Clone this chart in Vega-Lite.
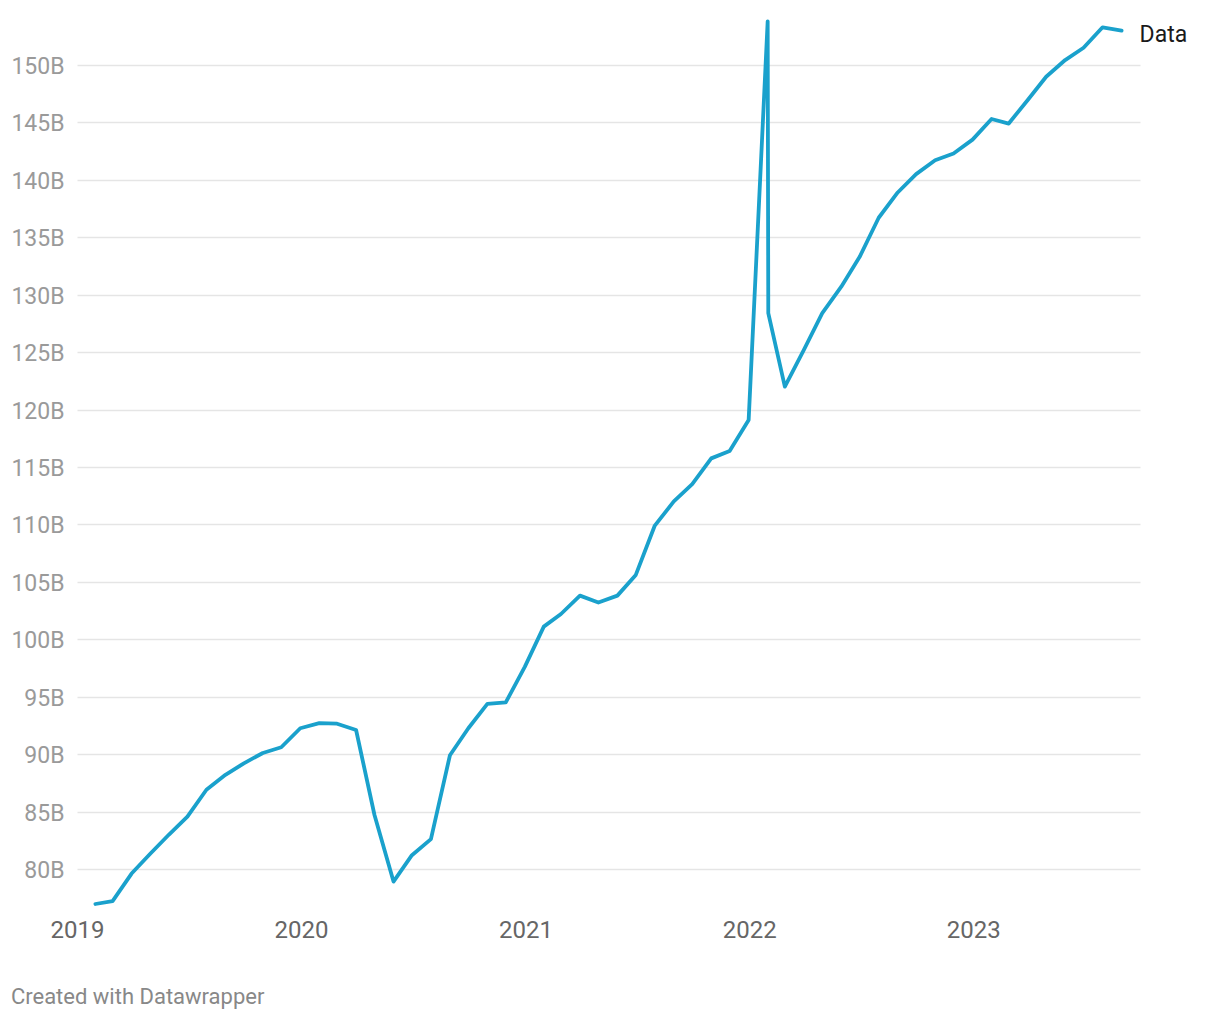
{
  "$schema": "https://vega.github.io/schema/vega-lite/v6.json",
  "width": 1063,
  "height": 883,
  "autosize": {"type": "none"},
  "padding": {"left": 77, "top": 21, "right": 80, "bottom": 116},
  "background": "white",
  "config": {"view": {"stroke": null}, "font": "Roboto"},
  "title": {
    "text": "Created with Datawrapper",
    "orient": "bottom",
    "anchor": "start",
    "frame": "bounds",
    "font": "Roboto",
    "fontSize": 22,
    "fontWeight": "normal",
    "color": "#888888",
    "baseline": "top",
    "offset": 45
  },
  "data": {
    "values": [
      {"date": "2019-01-31", "value": 76.95, "series": "Data"},
      {"date": "2019-02-28", "value": 77.2, "series": "Data"},
      {"date": "2019-03-31", "value": 79.6, "series": "Data"},
      {"date": "2019-04-30", "value": 81.3, "series": "Data"},
      {"date": "2019-05-31", "value": 83.0, "series": "Data"},
      {"date": "2019-06-30", "value": 84.55, "series": "Data"},
      {"date": "2019-07-31", "value": 86.9, "series": "Data"},
      {"date": "2019-08-31", "value": 88.2, "series": "Data"},
      {"date": "2019-09-30", "value": 89.2, "series": "Data"},
      {"date": "2019-10-31", "value": 90.1, "series": "Data"},
      {"date": "2019-11-30", "value": 90.6, "series": "Data"},
      {"date": "2019-12-31", "value": 92.25, "series": "Data"},
      {"date": "2020-01-31", "value": 92.7, "series": "Data"},
      {"date": "2020-02-29", "value": 92.65, "series": "Data"},
      {"date": "2020-03-31", "value": 92.1, "series": "Data"},
      {"date": "2020-04-30", "value": 84.7, "series": "Data"},
      {"date": "2020-05-31", "value": 78.9, "series": "Data"},
      {"date": "2020-06-30", "value": 81.2, "series": "Data"},
      {"date": "2020-07-31", "value": 82.6, "series": "Data"},
      {"date": "2020-08-31", "value": 89.9, "series": "Data"},
      {"date": "2020-09-30", "value": 92.25, "series": "Data"},
      {"date": "2020-10-31", "value": 94.37, "series": "Data"},
      {"date": "2020-11-30", "value": 94.5, "series": "Data"},
      {"date": "2020-12-31", "value": 97.6, "series": "Data"},
      {"date": "2021-01-31", "value": 101.1, "series": "Data"},
      {"date": "2021-02-28", "value": 102.2, "series": "Data"},
      {"date": "2021-03-31", "value": 103.8, "series": "Data"},
      {"date": "2021-04-30", "value": 103.2, "series": "Data"},
      {"date": "2021-05-31", "value": 103.8, "series": "Data"},
      {"date": "2021-06-30", "value": 105.6, "series": "Data"},
      {"date": "2021-07-31", "value": 109.9, "series": "Data"},
      {"date": "2021-08-31", "value": 112.0, "series": "Data"},
      {"date": "2021-09-30", "value": 113.5, "series": "Data"},
      {"date": "2021-10-31", "value": 115.75, "series": "Data"},
      {"date": "2021-11-30", "value": 116.4, "series": "Data"},
      {"date": "2021-12-31", "value": 119.1, "series": "Data"},
      {"date": "2022-01-31", "value": 153.8, "series": "Data"},
      {"date": "2022-02-01", "value": 128.4, "series": "Data"},
      {"date": "2022-02-28", "value": 122.0, "series": "Data"},
      {"date": "2022-03-31", "value": 125.2, "series": "Data"},
      {"date": "2022-04-30", "value": 128.4, "series": "Data"},
      {"date": "2022-05-31", "value": 130.7, "series": "Data"},
      {"date": "2022-06-30", "value": 133.3, "series": "Data"},
      {"date": "2022-07-31", "value": 136.7, "series": "Data"},
      {"date": "2022-08-31", "value": 138.9, "series": "Data"},
      {"date": "2022-09-30", "value": 140.5, "series": "Data"},
      {"date": "2022-10-31", "value": 141.7, "series": "Data"},
      {"date": "2022-11-30", "value": 142.3, "series": "Data"},
      {"date": "2022-12-31", "value": 143.5, "series": "Data"},
      {"date": "2023-01-31", "value": 145.3, "series": "Data"},
      {"date": "2023-02-28", "value": 144.9, "series": "Data"},
      {"date": "2023-03-31", "value": 146.95, "series": "Data"},
      {"date": "2023-04-30", "value": 148.98, "series": "Data"},
      {"date": "2023-05-31", "value": 150.43, "series": "Data"},
      {"date": "2023-06-30", "value": 151.5, "series": "Data"},
      {"date": "2023-07-31", "value": 153.28, "series": "Data"},
      {"date": "2023-08-31", "value": 152.99, "series": "Data"}
    ]
  },
  "encoding": {
    "x": {
      "field": "date",
      "type": "temporal",
      "scale": {
        "type": "utc",
        "domain": [
          {"year": 2019, "month": 1, "date": 1, "utc": true},
          {"year": 2023, "month": 9, "date": 30, "utc": true}
        ]
      },
      "axis": {
        "values": [
          {"year": 2019, "month": 1, "date": 1, "utc": true},
          {"year": 2020, "month": 1, "date": 1, "utc": true},
          {"year": 2021, "month": 1, "date": 1, "utc": true},
          {"year": 2022, "month": 1, "date": 1, "utc": true},
          {"year": 2023, "month": 1, "date": 1, "utc": true}
        ],
        "format": "%Y",
        "title": null,
        "domain": false,
        "ticks": false,
        "grid": false,
        "labelFlush": false,
        "labelOverlap": false,
        "labelBound": false,
        "labelFont": "Roboto",
        "labelFontSize": 24,
        "labelColor": "#666666",
        "labelPadding": 14
      }
    },
    "y": {
      "field": "value",
      "type": "quantitative",
      "scale": {"domain": [76.95, 153.83], "nice": false, "zero": false},
      "axis": {
        "values": [80, 85, 90, 95, 100, 105, 110, 115, 120, 125, 130, 135, 140, 145, 150],
        "labelExpr": "datum.value + 'B'",
        "title": null,
        "domain": false,
        "ticks": false,
        "grid": true,
        "gridColor": "#e5e5e5",
        "gridWidth": 1.5,
        "labelFont": "Roboto",
        "labelFontSize": 23,
        "labelColor": "#9a9a9a",
        "labelPadding": 13,
        "labelOffset": 1.5,
        "labelBaseline": "middle"
      }
    }
  },
  "layer": [
    {
      "mark": {
        "type": "line",
        "color": "#1aa1cc",
        "strokeWidth": 3.8,
        "strokeJoin": "round",
        "strokeCap": "round"
      }
    },
    {
      "transform": [
        {"window": [{"op": "row_number", "as": "rn"}], "sort": [{"field": "date", "order": "descending"}]},
        {"filter": "datum.rn == 1"}
      ],
      "mark": {
        "type": "text",
        "align": "left",
        "baseline": "middle",
        "dx": 18,
        "dy": 4,
        "font": "Roboto",
        "fontSize": 23,
        "color": "#1a1a1a"
      },
      "encoding": {"text": {"field": "series"}}
    }
  ]
}
